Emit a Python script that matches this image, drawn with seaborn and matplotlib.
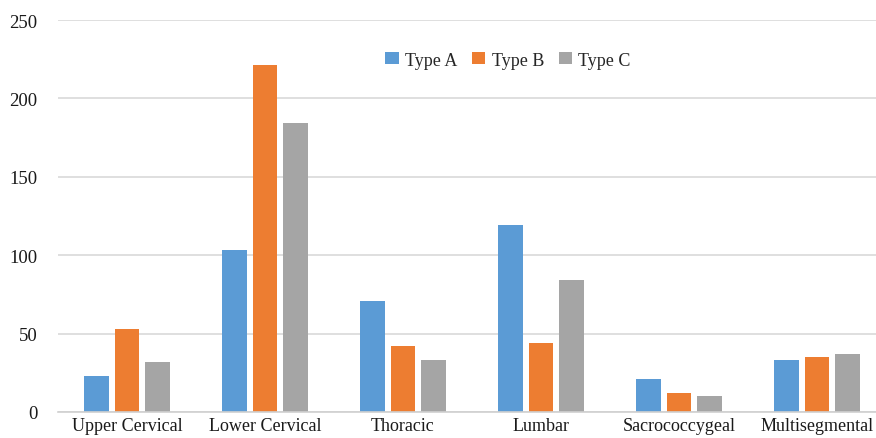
import matplotlib
matplotlib.use("Agg")
import matplotlib.pyplot as plt
import seaborn as sns
import pandas as pd

categories = ["Upper Cervical", "Lower Cervical", "Thoracic", "Lumbar", "Sacrococcygeal", "Multisegmental"]
series_names = ["Type A", "Type B", "Type C"]
type_a = [23, 103, 71, 119, 21, 33]
type_b = [53, 221, 42, 44, 12, 35]
type_c = [32, 184, 33, 84, 10, 37]
y_ticks = [0, 50, 100, 150, 200, 250]
colors = ["#5B9BD5", "#ED7D31", "#A5A5A5"]

rows = []
for name, vals in zip(series_names, [type_a, type_b, type_c]):
    for cat, v in zip(categories, vals):
        rows.append({"region": cat, "type": name, "count": v})
df = pd.DataFrame(rows)

sns.set_theme(style="white")
plt.rcParams["font.family"] = ["Liberation Serif", "DejaVu Serif"]

fig = plt.figure(figsize=(8.76, 4.39), dpi=100)
ax = fig.add_axes([58/876, 26/439, 828/876, 392/439])

sns.barplot(data=df, x="region", y="count", hue="type", order=categories,
            hue_order=series_names, palette=colors, saturation=1,
            width=0.663, gap=0.21, ax=ax, errorbar=None, linewidth=0)

ax.set_xlim(-0.5, 5.5)
ax.set_ylim(0, 250)
ax.set_yticks(y_ticks)
ax.set_yticklabels([str(t) for t in y_ticks], fontsize=13.5)
ax.set_xlabel("")
ax.set_ylabel("")
ax.tick_params(axis="y", length=0, pad=15, colors="#1a1a1a")
ax.tick_params(axis="x", length=0, pad=3.5, labelsize=13, colors="#1a1a1a")
ax.grid(axis="y", color="#d9d9d9", linewidth=1.2)
ax.grid(axis="x", visible=False)
ax.set_axisbelow(True)
for s in ["left", "right", "top"]:
    ax.spines[s].set_visible(False)
ax.spines["bottom"].set_color("#d0d0d0")
ax.spines["bottom"].set_linewidth(1.2)

handles, labels = ax.get_legend_handles_labels()
ax.legend_.remove()
fig.legend(handles, labels, loc="center", bbox_to_anchor=(508/876, 1 - 61/439),
           bbox_transform=fig.transFigure, ncol=3, frameon=False, fontsize=13,
           handlelength=0.75, handleheight=0.6, handletextpad=0.35, columnspacing=0.8)

fig.savefig("out.png", dpi=100)
